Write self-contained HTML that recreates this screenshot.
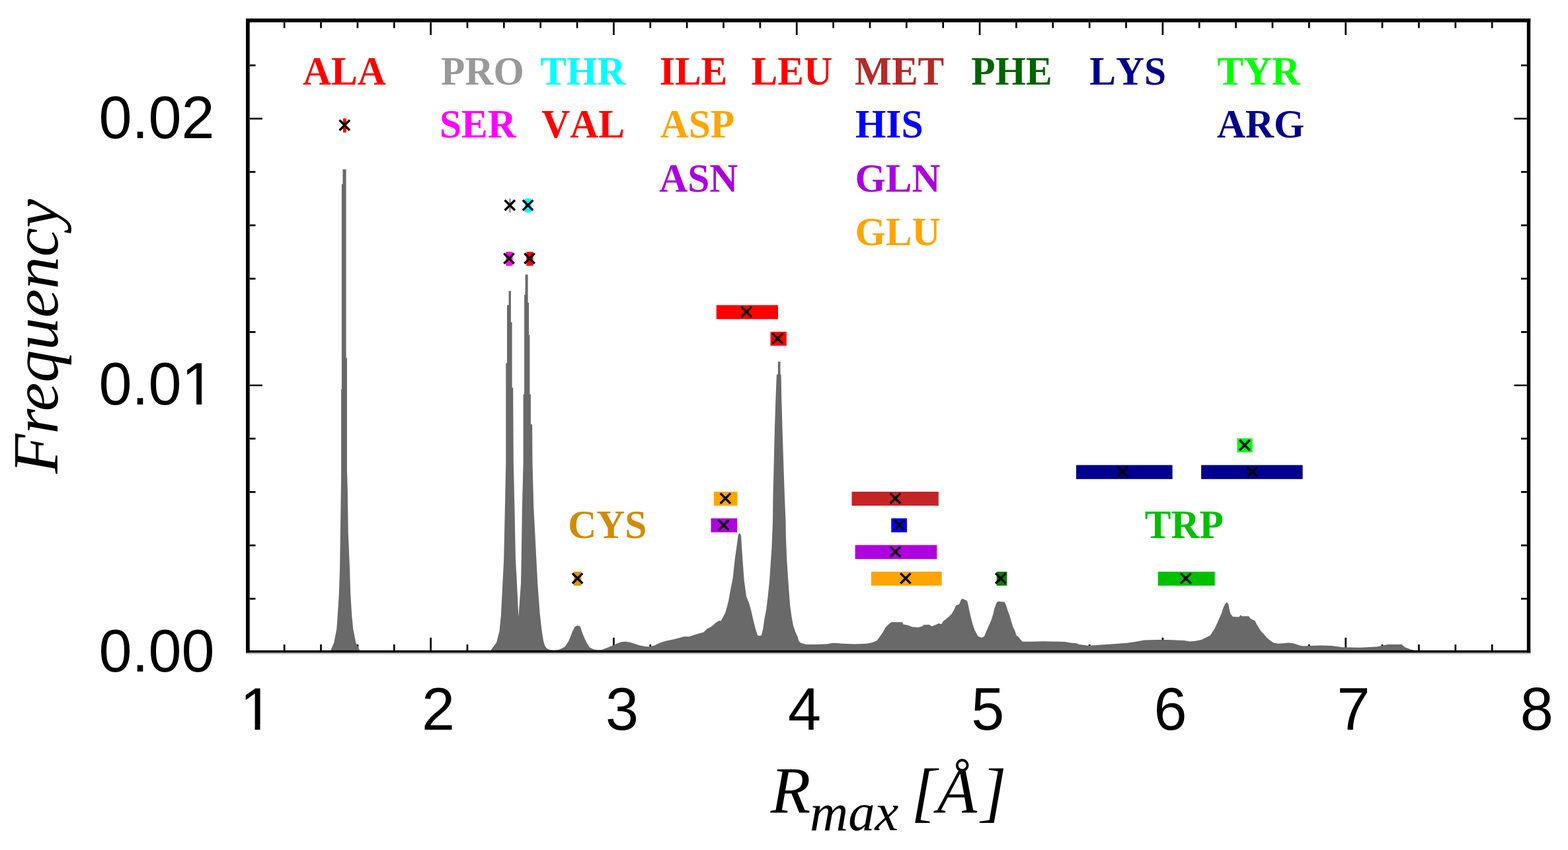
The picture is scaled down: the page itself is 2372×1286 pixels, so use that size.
<!DOCTYPE html>
<html lang="en"><head><meta charset="utf-8"><title>Frequency vs R max</title>
<style>
html,body{margin:0;padding:0;background:#ffffff;}
body{width:2372px;height:1286px;overflow:hidden;}
svg{display:block;}
.t{font-family:"Liberation Sans",sans-serif;font-size:90px;fill:#000;}
.b{font-family:"Liberation Serif",serif;font-weight:bold;font-size:60px;font-kerning:none;text-anchor:middle;}
.i{font-family:"Liberation Serif",serif;font-style:italic;font-size:99px;fill:#000;}
</style></head><body>
<svg width="2372" height="1286" viewBox="0 0 2372 1286">
<rect x="0" y="0" width="2372" height="1286" fill="#ffffff"/>
<g id="ticks" stroke="#000" stroke-width="2.7" fill="none">
<path d="M430.16 983.90V975.10M430.16 33.70V42.50M485.53 983.90V975.10M485.53 33.70V42.50M540.89 983.90V975.10M540.89 33.70V42.50M596.25 983.90V975.10M596.25 33.70V42.50M651.61 983.90V964.70M651.61 33.70V52.90M706.98 983.90V975.10M706.98 33.70V42.50M762.34 983.90V975.10M762.34 33.70V42.50M817.70 983.90V975.10M817.70 33.70V42.50M873.07 983.90V975.10M873.07 33.70V42.50M928.43 983.90V964.70M928.43 33.70V52.90M983.79 983.90V975.10M983.79 33.70V42.50M1039.15 983.90V975.10M1039.15 33.70V42.50M1094.52 983.90V975.10M1094.52 33.70V42.50M1149.88 983.90V975.10M1149.88 33.70V42.50M1205.24 983.90V964.70M1205.24 33.70V52.90M1260.61 983.90V975.10M1260.61 33.70V42.50M1315.97 983.90V975.10M1315.97 33.70V42.50M1371.33 983.90V975.10M1371.33 33.70V42.50M1426.69 983.90V975.10M1426.69 33.70V42.50M1482.06 983.90V964.70M1482.06 33.70V52.90M1537.42 983.90V975.10M1537.42 33.70V42.50M1592.78 983.90V975.10M1592.78 33.70V42.50M1648.15 983.90V975.10M1648.15 33.70V42.50M1703.51 983.90V975.10M1703.51 33.70V42.50M1758.87 983.90V964.70M1758.87 33.70V52.90M1814.23 983.90V975.10M1814.23 33.70V42.50M1869.60 983.90V975.10M1869.60 33.70V42.50M1924.96 983.90V975.10M1924.96 33.70V42.50M1980.32 983.90V975.10M1980.32 33.70V42.50M2035.69 983.90V964.70M2035.69 33.70V52.90M2091.05 983.90V975.10M2091.05 33.70V42.50M2146.41 983.90V975.10M2146.41 33.70V42.50M2201.77 983.90V975.10M2201.77 33.70V42.50M2257.14 983.90V975.10M2257.14 33.70V42.50M377.70 905.80H386.50M2309.80 905.80H2301.00M377.70 825.10H386.50M2309.80 825.10H2301.00M377.70 744.40H386.50M2309.80 744.40H2301.00M377.70 663.70H386.50M2309.80 663.70H2301.00M377.70 583.00H396.90M2309.80 583.00H2290.60M377.70 502.30H386.50M2309.80 502.30H2301.00M377.70 421.60H386.50M2309.80 421.60H2301.00M377.70 340.90H386.50M2309.80 340.90H2301.00M377.70 260.20H386.50M2309.80 260.20H2301.00M377.70 179.50H396.90M2309.80 179.50H2290.60M377.70 98.80H386.50M2309.80 98.80H2301.00"/>
</g>
<polygon id="hist" fill="#696969" points="500.2,984.0 505.2,972.5 509.2,952.3 510.7,932.0 512.8,897.7 514.1,861.0 516.1,720.0 516.1,589.0 516.9,589.0 516.9,278.4 518.5,278.4 518.5,256.2 523.6,256.2 523.6,541.6 525.0,541.6 525.0,712.4 525.8,740.0 526.8,806.7 529.1,861.0 530.2,897.7 532.3,932.0 534.3,952.3 538.4,972.5 544.3,984.0 742.2,984.0 751.1,972.0 755.4,955.2 757.9,931.0 760.3,882.9 762.2,846.7 763.9,767.0 765.3,700.0 765.3,549.5 767.0,549.5 767.0,461.4 769.6,461.4 769.6,440.2 772.9,440.2 772.9,487.5 774.6,487.5 774.6,586.6 776.2,586.6 776.8,700.0 778.4,767.0 780.0,846.7 782.0,882.9 784.4,933.5 788.0,882.9 788.7,846.7 789.9,767.0 791.6,700.0 791.6,596.4 793.1,596.4 793.1,446.0 794.6,446.0 794.6,415.5 798.6,415.5 798.6,458.0 800.1,458.0 800.1,507.0 801.4,507.0 801.4,596.4 802.9,596.4 802.9,642.0 805.1,642.0 805.5,700.0 807.3,767.0 811.4,846.7 813.3,882.9 816.9,931.0 819.8,955.2 822.0,969.3 824.0,976.4 827.0,980.9 832.0,983.2 838.0,983.8 845.0,982.9 850.0,980.9 855.0,977.9 860.0,970.3 863.0,963.2 866.0,955.1 869.5,948.5 871.0,947.3 873.5,946.5 876.0,947.3 877.7,947.8 878.7,951.0 882.0,960.2 885.0,967.3 888.0,973.3 892.0,979.4 897.0,981.9 903.0,983.2 910.0,983.2 916.0,980.9 921.0,978.9 927.0,976.4 933.0,973.8 940.0,971.3 946.0,970.8 953.0,971.8 961.0,974.3 968.0,976.4 976.0,977.9 982.0,978.4 990.0,976.4 998.0,972.8 1007.0,969.8 1017.0,967.8 1027.0,965.2 1035.0,962.9 1042.0,963.2 1048.2,961.3 1056.3,958.8 1064.5,956.4 1069.4,951.5 1075.9,948.2 1082.5,942.5 1087.4,939.2 1090.6,939.2 1093.9,933.5 1097.2,927.0 1099.6,918.8 1102.1,909.0 1105.3,891.0 1108.6,874.7 1111.8,845.3 1114.3,827.4 1116.7,809.4 1118.2,806.9 1119.6,806.9 1121.1,811.0 1123.3,845.3 1125.7,878.0 1129.0,902.5 1133.1,912.3 1136.3,923.7 1139.6,938.4 1142.9,951.5 1146.1,961.3 1148.6,962.1 1151.8,961.3 1154.3,951.5 1156.7,935.1 1159.2,922.1 1161.6,902.5 1164.1,878.0 1165.7,853.5 1167.4,829.0 1169.0,790.0 1169.4,752.4 1170.4,712.0 1171.9,649.3 1173.5,600.8 1174.9,566.4 1176.9,566.4 1176.9,547.2 1180.5,547.2 1180.5,566.4 1181.6,566.4 1182.2,600.8 1183.6,649.3 1185.6,712.0 1187.0,752.4 1188.6,790.0 1188.9,812.7 1190.2,845.3 1191.8,869.8 1193.5,894.3 1195.1,915.5 1197.6,933.5 1200.0,946.6 1203.6,957.0 1206.9,964.0 1208.2,969.5 1211.4,972.7 1219.6,975.1 1235.9,975.1 1252.2,974.3 1260.0,972.8 1280.0,974.0 1294.2,974.5 1311.3,973.7 1319.9,972.0 1326.7,969.0 1331.0,963.0 1335.3,957.0 1339.6,949.3 1343.8,945.0 1348.1,941.2 1365.2,941.2 1366.1,944.6 1373.8,945.9 1379.8,948.4 1388.3,949.3 1395.2,947.6 1396.9,945.4 1405.4,945.0 1409.7,947.6 1416.5,945.0 1420.0,942.9 1424.2,944.2 1426.8,939.9 1435.4,933.0 1439.6,928.8 1443.6,922.0 1446.0,915.9 1451.1,914.2 1453.7,907.4 1456.1,905.7 1459.7,907.4 1463.1,909.1 1464.8,915.9 1466.5,924.5 1469.1,935.6 1471.7,945.0 1474.2,952.7 1476.8,957.8 1479.4,962.5 1484.5,964.7 1488.8,963.0 1491.3,957.0 1493.9,951.0 1496.5,945.0 1499.9,937.3 1502.4,928.8 1504.2,921.1 1506.7,914.2 1508.4,910.8 1511.0,909.9 1519.6,910.8 1522.1,915.9 1524.7,924.5 1527.3,931.3 1529.8,939.9 1532.4,948.4 1535.0,953.6 1537.5,961.3 1540.9,963.8 1543.5,967.3 1546.9,970.7 1559.8,970.7 1576.9,970.2 1602.5,970.7 1611.1,971.1 1619.6,972.4 1628.2,973.2 1632.8,975.0 1645.7,976.7 1662.8,975.8 1688.4,974.1 1705.5,972.8 1718.4,970.7 1731.2,968.5 1748.3,968.1 1765.4,968.1 1791.1,969.0 1800.0,970.5 1808.6,969.8 1817.1,968.1 1824.0,964.7 1830.8,961.3 1834.2,956.1 1837.6,951.0 1841.1,943.3 1844.5,935.6 1847.9,927.9 1850.5,919.4 1853.0,914.2 1855.6,911.2 1858.2,913.4 1859.9,922.8 1861.6,928.8 1865.0,933.0 1874.4,933.5 1876.6,930.5 1878.7,932.2 1889.0,932.2 1891.5,935.6 1894.1,937.3 1898.4,939.0 1900.9,944.2 1904.4,950.1 1907.8,955.3 1912.1,959.6 1916.3,964.7 1921.5,969.0 1926.6,972.4 1933.4,973.7 1941.1,973.2 1949.7,972.4 1958.3,973.7 1965.1,976.2 1971.1,977.5 1988.2,976.7 2000.0,976.4 2014.2,977.1 2031.3,979.2 2057.0,979.7 2082.7,978.4 2099.8,975.0 2120.3,975.0 2125.4,979.2 2134.0,982.6 2140.8,984.0"/>
<g id="frame" fill="#000">
<rect x="372.00" y="28.00" width="5.70" height="959.70"/>
<rect x="2309.80" y="28.00" width="5.40" height="959.70"/>
<rect x="372.00" y="28.00" width="1943.20" height="5.70"/>
<rect x="372.00" y="983.90" width="1943.20" height="3.80"/>
<rect x="372.00" y="987.70" width="1943.20" height="2.00" fill="#c4c4c4"/>
</g>
<g id="markers">
<rect x="518.9" y="179.3" width="5.0" height="21.2" fill="#ff0000"/>
<rect x="769.9" y="300.3" width="3.0" height="21.2" fill="#9a9a9a"/>
<rect x="793.8" y="300.3" width="9.5" height="21.2" fill="#00ffff"/>
<rect x="765.4" y="380.9" width="10.1" height="21.2" fill="#ff00ff"/>
<rect x="796.3" y="380.9" width="10.1" height="21.2" fill="#ff0000"/>
<rect x="1083.7" y="461.6" width="93.3" height="21.2" fill="#ff0000"/>
<rect x="1165.5" y="501.9" width="24.3" height="21.2" fill="#ff0000"/>
<rect x="1079.9" y="743.9" width="35.5" height="21.2" fill="#ffa500"/>
<rect x="1075.5" y="784.2" width="39.6" height="21.2" fill="#ae00e0"/>
<rect x="1288.5" y="743.9" width="131.3" height="21.2" fill="#c52424"/>
<rect x="1348.2" y="784.2" width="23.8" height="21.2" fill="#0000ff"/>
<rect x="1293.6" y="824.6" width="123.7" height="21.2" fill="#ae00e0"/>
<rect x="1317.9" y="864.9" width="106.8" height="21.2" fill="#ffa500"/>
<rect x="867.9" y="864.9" width="11.4" height="21.2" fill="#d8960a"/>
<rect x="1507.6" y="864.9" width="15.8" height="21.2" fill="#0a7d0a"/>
<rect x="1628.0" y="703.6" width="145.6" height="21.2" fill="#00008f"/>
<rect x="1817.1" y="703.6" width="153.5" height="21.2" fill="#00008f"/>
<rect x="1871.4" y="663.2" width="23.3" height="21.2" fill="#00ff00"/>
<rect x="1751.7" y="864.9" width="86.0" height="21.2" fill="#00c000"/>
<path d="M513.6 181.8L529.0 197.2M513.6 197.2L529.0 181.8M763.6 302.8L779.0 318.2M763.6 318.2L779.0 302.8M790.9 302.8L806.3 318.2M790.9 318.2L806.3 302.8M762.3 383.4L777.7 398.8M762.3 398.8L777.7 383.4M793.4 383.4L808.8 398.8M793.4 398.8L808.8 383.4M1121.4 464.1L1136.8 479.5M1121.4 479.5L1136.8 464.1M1168.6 504.4L1184.0 519.8M1168.6 519.8L1184.0 504.4M1089.7 746.4L1105.1 761.8M1089.7 761.8L1105.1 746.4M1086.9 786.7L1102.3 802.1M1086.9 802.1L1102.3 786.7M1346.7 746.4L1362.1 761.8M1346.7 761.8L1362.1 746.4M1352.6 786.7L1368.0 802.1M1352.6 802.1L1368.0 786.7M1346.7 827.1L1362.1 842.5M1346.7 842.5L1362.1 827.1M1362.2 867.4L1377.6 882.8M1362.2 882.8L1377.6 867.4M865.9 867.4L881.3 882.8M865.9 882.8L881.3 867.4M1506.1 867.4L1521.5 882.8M1506.1 882.8L1521.5 867.4M1690.5 706.1L1705.9 721.5M1690.5 721.5L1705.9 706.1M1886.8 706.1L1902.2 721.5M1886.8 721.5L1902.2 706.1M1875.2 665.8L1890.6 681.2M1875.2 681.2L1890.6 665.8M1786.1 867.4L1801.5 882.8M1786.1 882.8L1801.5 867.4" stroke="#000" stroke-width="3.4" fill="none"/>
</g>
<g id="labels" class="b">
<text transform="translate(520.90 127.7) scale(0.992 1.035)" fill="#ff0000">ALA</text>
<text transform="translate(729.90 127.7) scale(0.992 1.035)" fill="#999999">PRO</text>
<text transform="translate(881.80 127.7) scale(0.992 1.035)" fill="#00ffff">THR</text>
<text transform="translate(1049.00 127.7) scale(0.992 1.035)" fill="#ff0000">ILE</text>
<text transform="translate(1197.80 127.7) scale(0.992 1.035)" fill="#ff0000">LEU</text>
<text transform="translate(1360.50 127.7) scale(0.992 1.035)" fill="#b52a2a">MET</text>
<text transform="translate(1530.40 127.7) scale(0.992 1.035)" fill="#006400">PHE</text>
<text transform="translate(1706.20 127.7) scale(0.992 1.035)" fill="#00008b">LYS</text>
<text transform="translate(1904.00 127.7) scale(0.992 1.035)" fill="#00ff00">TYR</text>
<text transform="translate(722.90 208.1) scale(0.992 1.035)" fill="#ff00ff">SER</text>
<text transform="translate(882.10 208.1) scale(0.992 1.035)" fill="#ff0000">VAL</text>
<text transform="translate(1055.00 208.1) scale(0.992 1.035)" fill="#ffa500">ASP</text>
<text transform="translate(1345.20 208.1) scale(0.992 1.035)" fill="#0000ff">HIS</text>
<text transform="translate(1907.10 208.1) scale(0.992 1.035)" fill="#00008b">ARG</text>
<text transform="translate(1056.70 289.9) scale(0.992 1.035)" fill="#aa00e0">ASN</text>
<text transform="translate(1357.90 289.9) scale(0.992 1.035)" fill="#aa00e0">GLN</text>
<text transform="translate(1357.90 370.5) scale(0.992 1.035)" fill="#ffa500">GLU</text>
<text transform="translate(918.70 814.3) scale(0.992 1.035)" fill="#d08c08">CYS</text>
<text transform="translate(1791.30 814.1) scale(0.992 1.035)" fill="#00c000">TRP</text>
</g>
<defs>
<clipPath id="c1x"><rect x="360" y="1030" width="34.2" height="66.6"/><rect x="385.6" y="1096" width="7.9" height="12"/></clipPath>
<clipPath id="c1y"><rect x="140" y="530" width="136.2" height="100"/><rect x="140" y="530" width="165.7" height="74.6"/><rect x="297.2" y="604.3" width="7.9" height="12"/></clipPath>
</defs>
<g id="ticklabels" class="t">
<text x="149.4" y="208.9">0.02</text>
<text x="149.4" y="612.4" clip-path="url(#c1y)">0.01</text>
<text x="149.4" y="1015.9">0.00</text>
<text x="363.0" y="1103.8" clip-path="url(#c1x)">1</text>
<text x="638.1" y="1103.8">2</text>
<text x="916.1" y="1103.8">3</text>
<text x="1192.1" y="1103.8">4</text>
<text x="1469.2" y="1103.8">5</text>
<text x="1745.4" y="1103.8">6</text>
<text x="2022.6" y="1103.8">7</text>
<text x="2299.8" y="1103.8">8</text>
</g>
<g id="titles" class="i">
<text><tspan x="1165.8" y="1229.0">R</tspan><tspan x="1225.0" y="1256.0" font-size="80.5">max</tspan><tspan x="1360.0 1378.6" y="1231.6"> [</tspan><tspan x="1417.6" y="1229.0">Å</tspan><tspan x="1484.0" y="1231.6">]</tspan></text>
<text transform="translate(87.0 716.6) rotate(-90)" x="0" y="0" font-size="98">Frequency</text>
</g>
</svg>
</body></html>
